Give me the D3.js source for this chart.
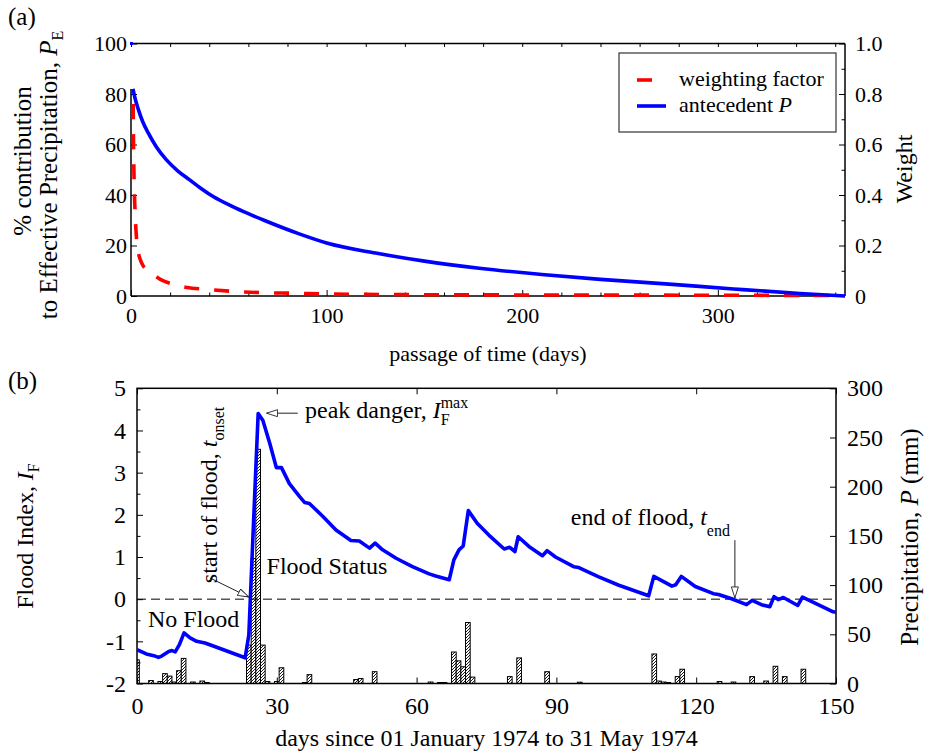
<!DOCTYPE html>
<html>
<head>
<meta charset="utf-8">
<script src="https://cdn.jsdelivr.net/npm/d3@7"></script>
<style>
  body { margin: 0; background: #fff; }
  svg { display: block; font-family: "Liberation Serif", "Times New Roman", serif; }
</style>
</head>
<body>
<svg id="chart" width="928" height="752"></svg>
<script>
// ---------- Panel (a): weighting factor and antecedent precipitation ----------
const weightDays   = [1.1, 1.3, 1.6, 2.0, 2.8, 3.6, 5.5, 8, 10.6, 15, 20, 28.5, 38, 53, 68, 83, 99, 130, 205, 300, 365];
const weightValues = [0.76, 0.60, 0.45, 0.35, 0.23, 0.18, 0.13, 0.105, 0.09, 0.066, 0.05, 0.034, 0.027, 0.018, 0.013, 0.011, 0.008, 0.006, 0.004, 0.003, 0.002];
const antecedentDays = [1, 2, 3.7, 6, 8.8, 13, 18, 24, 30, 36, 42, 52, 60, 68, 86, 100, 125, 150, 178, 210, 240, 275, 308, 342, 365];
const antecedentPct  = [82, 78.5, 74, 69, 64.6, 59, 54, 49.5, 46, 42.5, 39.4, 35.4, 32.6, 30.0, 24.6, 21.0, 17.0, 13.8, 11.0, 8.5, 6.6, 4.7, 2.8, 1.0, 0];
const antecedentStart = [0, 100];            // contribution on day 0
const timeTicks   = [0, 100, 200, 300];
const pctTicks    = [0, 20, 40, 60, 80, 100];
const weightTicks = [0, 0.2, 0.4, 0.6, 0.8, 1.0];

// ---------- Panel (b): flood index and daily precipitation, Jan-May 1974 ----------
const indexDays = [0, 2, 3.6, 4.6, 5.3, 6.8, 7.5, 8.2, 9.1, 10.1, 11.4, 12.8, 14.6, 16.8, 23.2, 24, 25, 26, 27, 28.5, 29.9, 31,
  32.7, 34.9, 36, 37, 39.9, 42.7, 45.9, 47.7, 49.9, 51.1, 52.7, 55.6, 59.1, 62.7, 64.1, 67, 68, 69.1, 70, 71.1, 73, 75.5,
  78.8, 80, 81.1, 81.8, 84.1, 87, 88, 89.8, 93.7, 94.8, 99.1, 103.4, 109.8, 110.9, 114.8, 115.6, 116.8, 119.8, 123.7,
  124.8, 127.6, 130.8, 132, 134, 135.8, 136.7, 137.6, 138.7, 141.8, 142.8, 149.4, 150];
const indexValues = [-1.20, -1.30, -1.34, -1.38, -1.35, -1.24, -1.22, -1.25, -1.08, -0.80, -0.92, -1.00, -1.04, -1.13, -1.39, -0.85, 1.8, 4.40, 4.24, 3.69, 3.12, 3.12,
  2.74, 2.43, 2.29, 2.27, 1.96, 1.64, 1.39, 1.38, 1.21, 1.33, 1.17, 0.97, 0.77, 0.60, 0.55, 0.46, 0.93, 1.17, 1.26, 2.10, 1.80, 1.52,
  1.19, 1.23, 1.13, 1.48, 1.25, 1.03, 1.15, 1.00, 0.77, 0.75, 0.53, 0.33, 0.08, 0.54, 0.31, 0.34, 0.54, 0.30, 0.13,
  0.11, 0.01, -0.13, -0.03, -0.13, -0.18, 0.06, -0.01, 0.04, -0.15, 0.05, -0.30, -0.31];
const rainDays = [0, 3, 5, 6, 7, 8, 9, 10, 12, 14, 15, 24, 25, 26, 27, 28, 30, 31, 36, 37, 47, 48, 51, 63, 65, 66,
  68, 69, 70, 71, 72, 80, 82, 88, 95, 111, 112, 113, 114, 116, 117, 125, 128, 132, 135, 137, 139, 143];
const rainMM = [24, 3, 2, 10, 7.5, 1.5, 13, 25.5, 1.5, 2.5, 1, 39, 127, 238, 39, 2, 2, 16, 1, 9, 4, 5, 12, 1.5, 1, 1,
  32, 23, 17, 62, 6.5, 7, 26, 12, 1.3, 30, 2.5, 1.5, 1, 7, 14.5, 2, 1.5, 7, 2.5, 17.5, 7, 14.5];
const dayTicks   = [0, 30, 60, 90, 120, 150];
const indexTicks = [-2, -1, 0, 1, 2, 3, 4, 5];
const rainTicks  = [0, 50, 100, 150, 200, 250, 300];

const svg = d3.select("#chart");
const defs = svg.append("defs");

function styleAxis(g, size) {
  g.attr("font-family", null).attr("font-size", size);
  g.select(".domain").remove();
  g.selectAll("line").attr("stroke", "#000").attr("stroke-width", 1);
  g.selectAll("text").attr("fill", "#000");
}

// ================= Panel (a) =================
const xA = d3.scaleLinear().domain([0, 365]).range([131, 845]);
const yA = d3.scaleLinear().domain([0, 100]).range([296, 43.5]);
const wA = d3.scaleLinear().domain([0, 1]).range([296, 43.5]);
const gA = svg.append("g");

const minorDaysA = d3.range(20, 365, 20).filter(d => d % 100 !== 0);
gA.append("g").attr("transform", "translate(0,296)")
  .call(d3.axisBottom(xA).tickValues(timeTicks).tickSizeInner(-6).tickSizeOuter(0).tickPadding(11).tickFormat(d3.format("d")))
  .call(g => styleAxis(g, 22));
gA.append("g").attr("transform", "translate(0,296)")
  .call(d3.axisBottom(xA).tickValues(minorDaysA).tickSizeInner(-3.5).tickSizeOuter(0).tickFormat(""))
  .call(g => styleAxis(g, 22));
gA.append("g").attr("transform", "translate(0,43.5)")
  .call(d3.axisTop(xA).tickValues(timeTicks.concat(minorDaysA)).tickSizeInner(-3.5).tickSizeOuter(0).tickFormat(""))
  .call(g => styleAxis(g, 22));
gA.append("g").attr("transform", "translate(131,0)")
  .call(d3.axisLeft(yA).tickValues(pctTicks).tickSizeInner(-6).tickSizeOuter(0).tickPadding(4).tickFormat(d3.format("d")))
  .call(g => styleAxis(g, 22));
gA.append("g").attr("transform", "translate(845,0)")
  .call(d3.axisRight(wA).tickValues(weightTicks).tickSizeInner(-6).tickSizeOuter(0).tickPadding(10)
    .tickFormat(d => d === 0 ? "0" : d3.format(".1f")(d)))
  .call(g => styleAxis(g, 22));
gA.append("g").attr("transform", "translate(845,0)")
  .call(d3.axisRight(wA).tickValues([0.1, 0.3, 0.5, 0.7, 0.9]).tickSizeInner(-3.5).tickSizeOuter(0).tickFormat(""))
  .call(g => styleAxis(g, 22));

// frame of panel (a); the left edge stops where the antecedent curve begins
const frameA = gA.append("g").attr("stroke", "#000").attr("stroke-width", 1.5).attr("fill", "none");
frameA.append("line").attr("x1", xA(0)).attr("x2", xA(365)).attr("y1", yA(100)).attr("y2", yA(100));
frameA.append("line").attr("x1", xA(0)).attr("x2", xA(365)).attr("y1", yA(0)).attr("y2", yA(0));
frameA.append("line").attr("x1", xA(365)).attr("x2", xA(365)).attr("y1", yA(0)).attr("y2", yA(100));
frameA.append("line").attr("x1", xA(0)).attr("x2", xA(0)).attr("y1", yA(0)).attr("y2", yA(antecedentPct[0]));

const weightPts = weightDays.map((d, i) => [d, weightValues[i]]);
gA.append("path").datum(weightPts)
  .attr("d", d3.line().x(d => xA(d[0])).y(d => wA(d[1])).curve(d3.curveMonotoneX))
  .attr("fill", "none").attr("stroke", "#ff0000").attr("stroke-width", 3.6).attr("stroke-dasharray", "15,15");

const antPts = antecedentDays.map((d, i) => [d, antecedentPct[i]]);
gA.append("path").datum(antPts)
  .attr("d", d3.line().x(d => xA(d[0])).y(d => yA(d[1])).curve(d3.curveMonotoneX))
  .attr("fill", "none").attr("stroke", "#0000ff").attr("stroke-width", 3.6);
gA.append("rect")
  .attr("x", xA(antecedentStart[0]) - 1).attr("y", yA(antecedentStart[1]) - 1.5)
  .attr("width", 3).attr("height", 3).attr("fill", "#0000ff");

// legend
const leg = gA.append("g").attr("font-size", 22);
leg.append("rect").attr("x", 619).attr("y", 53).attr("width", 217).attr("height", 79)
  .attr("fill", "#fff").attr("stroke", "#333").attr("stroke-width", 1.2);
leg.append("line").attr("x1", 637).attr("x2", 652).attr("y1", 80).attr("y2", 80)
  .attr("stroke", "#ff0000").attr("stroke-width", 3.6);
leg.append("line").attr("x1", 637).attr("x2", 666).attr("y1", 106).attr("y2", 106)
  .attr("stroke", "#0000ff").attr("stroke-width", 3.6);
leg.append("text").attr("x", 679).attr("y", 86).text("weighting factor");
const legT = leg.append("text").attr("x", 679).attr("y", 112);
legT.append("tspan").text("antecedent ");
legT.append("tspan").attr("font-style", "italic").text("P");

// axis titles (a)
svg.append("text").attr("x", 8).attr("y", 25).attr("font-size", 25).text("(a)");
svg.append("text").attr("x", 488).attr("y", 361).attr("text-anchor", "middle").attr("font-size", 22)
  .text("passage of time (days)");
svg.append("text").attr("transform", "translate(31,161) rotate(-90)").attr("text-anchor", "middle")
  .attr("font-size", 25).text("% contribution");
const tA2 = svg.append("text").attr("transform", "translate(57,175) rotate(-90)").attr("text-anchor", "middle")
  .attr("font-size", 25);
tA2.append("tspan").text("to Effective Precipitation, ");
tA2.append("tspan").attr("font-style", "italic").text("P");
tA2.append("tspan").attr("font-size", 16).attr("dy", 6).text("E");
svg.append("text").attr("transform", "translate(912,169) rotate(-90)").attr("text-anchor", "middle")
  .attr("font-size", 24).text("Weight");

// ================= Panel (b) =================
const xB = d3.scaleLinear().domain([0, 150]).range([137, 836]);
const yB = d3.scaleLinear().domain([-2, 5]).range([683.5, 388.3]);
const pB = d3.scaleLinear().domain([0, 300]).range([683.5, 388.3]);
const gB = svg.append("g");

defs.append("clipPath").attr("id", "clipB").append("rect")
  .attr("x", xB(0)).attr("y", yB(5)).attr("width", xB(150) - xB(0)).attr("height", yB(-2) - yB(5));

// diagonal hatching for the precipitation bars
const hatch = defs.append("pattern").attr("id", "hatch").attr("patternUnits", "userSpaceOnUse")
  .attr("width", 3).attr("height", 3);
hatch.append("rect").attr("width", 3).attr("height", 3).attr("fill", "#fff");
hatch.append("path").attr("d", "M-1,1 L1,-1 M0,3 L3,0 M2,4 L4,2")
  .attr("stroke", "#000").attr("stroke-width", 0.9);

// precipitation bars
const dayW = xB(1) - xB(0);
gB.append("g").attr("clip-path", "url(#clipB)")
  .selectAll("rect").data(rainDays.map((d, i) => [d, rainMM[i]])).join("rect")
  .attr("x", d => xB(d[0] - 0.5)).attr("width", dayW)
  .attr("y", d => pB(d[1])).attr("height", d => pB(0) - pB(d[1]))
  .attr("fill", "url(#hatch)").attr("stroke", "#000").attr("stroke-width", 1);

// flood / no-flood threshold
gB.append("line").attr("x1", xB(0)).attr("x2", xB(150)).attr("y1", yB(0)).attr("y2", yB(0))
  .attr("stroke", "#000").attr("stroke-width", 1).attr("stroke-dasharray", "9,5");

// axes (b)
gB.append("g").attr("transform", `translate(0,${yB(-2)})`)
  .call(d3.axisBottom(xB).tickValues(dayTicks).tickSizeInner(-6).tickSizeOuter(0).tickPadding(13).tickFormat(d3.format("d")))
  .call(g => styleAxis(g, 24));
gB.append("g").attr("transform", `translate(0,${yB(5)})`)
  .call(d3.axisTop(xB).tickValues(dayTicks).tickSizeInner(-6).tickSizeOuter(0).tickFormat(""))
  .call(g => styleAxis(g, 24));
gB.append("g").attr("transform", `translate(${xB(0)},0)`)
  .call(d3.axisLeft(yB).tickValues(indexTicks).tickSizeInner(-6).tickSizeOuter(0).tickPadding(11).tickFormat(d => String(d)))
  .call(g => styleAxis(g, 24));
gB.append("g").attr("transform", `translate(${xB(0)},0)`)
  .call(d3.axisLeft(yB).tickValues(d3.range(-1.5, 5, 1)).tickSizeInner(-3.5).tickSizeOuter(0).tickFormat(""))
  .call(g => styleAxis(g, 24));
gB.append("g").attr("transform", `translate(${xB(150)},0)`)
  .call(d3.axisRight(pB).tickValues(rainTicks).tickSizeInner(-6).tickSizeOuter(0).tickPadding(11).tickFormat(d3.format("d")))
  .call(g => styleAxis(g, 24));

gB.append("rect").attr("x", xB(0)).attr("y", yB(5)).attr("width", xB(150) - xB(0)).attr("height", yB(-2) - yB(5))
  .attr("fill", "none").attr("stroke", "#000").attr("stroke-width", 1.5);

// flood index line
const idxPts = indexDays.map((d, i) => [d, indexValues[i]]);
gB.append("path").datum(idxPts).attr("clip-path", "url(#clipB)")
  .attr("d", d3.line().x(d => xB(d[0])).y(d => yB(d[1])))
  .attr("fill", "none").attr("stroke", "#0000ff").attr("stroke-width", 3.6).attr("stroke-linejoin", "round");

// annotation arrows
defs.append("marker").attr("id", "openHead").attr("viewBox", "0 0 12 8")
  .attr("refX", 11.5).attr("refY", 4).attr("markerWidth", 12).attr("markerHeight", 8)
  .attr("markerUnits", "userSpaceOnUse").attr("orient", "auto")
  .append("path").attr("d", "M0.5,0.5 L11.5,4 L0.5,7.5 Z")
  .attr("fill", "#fff").attr("stroke", "#222").attr("stroke-width", 0.9);
const arrows = [
  [[15.7, 0.50], [24.0, 0.05]],   // onset
  [[34.5, 4.41], [27.8, 4.41]],   // peak
  [[128.3, 1.40], [128.3, 0.03]]  // end
];
gB.selectAll(".arrow").data(arrows).join("line").attr("class", "arrow")
  .attr("x1", d => xB(d[0][0])).attr("y1", d => yB(d[0][1]))
  .attr("x2", d => xB(d[1][0])).attr("y2", d => yB(d[1][1]))
  .attr("stroke", "#222").attr("stroke-width", 1).attr("marker-end", "url(#openHead)");

// annotation text
const ann = gB.append("g").attr("font-size", 24).attr("fill", "#000");
ann.append("text").attr("x", xB(2.36)).attr("y", yB(-0.66)).text("No Flood");
ann.append("text").attr("x", xB(27.8)).attr("y", yB(0.6)).text("Flood Status");
const tPeak = ann.append("text").attr("x", xB(36.05)).attr("y", yB(4.30));
tPeak.append("tspan").text("peak danger, ");
tPeak.append("tspan").attr("font-style", "italic").text("I");
tPeak.append("tspan").attr("font-size", 16).attr("dy", 7).text("F");
tPeak.append("tspan").attr("font-size", 16).attr("dx", -8.9).attr("dy", -17).text("max");
const tEnd = ann.append("text").attr("x", xB(93.1)).attr("y", yB(1.76));
tEnd.append("tspan").text("end of flood, ");
tEnd.append("tspan").attr("font-style", "italic").text("t");
tEnd.append("tspan").attr("font-size", 16).attr("dy", 11).text("end");
const tOnset = ann.append("text")
  .attr("transform", `translate(${xB(17.2)},${yB(0.38)}) rotate(-90)`);
tOnset.append("tspan").text("start of flood, ");
tOnset.append("tspan").attr("font-style", "italic").text("t");
tOnset.append("tspan").attr("font-size", 16).attr("dy", 7).text("onset");

// titles (b)
svg.append("text").attr("x", 8).attr("y", 389).attr("font-size", 25).text("(b)");
svg.append("text").attr("x", 486.5).attr("y", 746).attr("text-anchor", "middle").attr("font-size", 24)
  .text("days since 01 January 1974 to 31 May 1974");
const tIdx = svg.append("text").attr("transform", "translate(33,536) rotate(-90)").attr("text-anchor", "middle")
  .attr("font-size", 24);
tIdx.append("tspan").text("Flood Index, ");
tIdx.append("tspan").attr("font-style", "italic").text("I");
tIdx.append("tspan").attr("font-size", 16).attr("dy", 6).text("F");
const tRain = svg.append("text").attr("transform", "translate(918,537) rotate(-90)").attr("text-anchor", "middle")
  .attr("font-size", 25);
tRain.append("tspan").text("Precipitation, ");
tRain.append("tspan").attr("font-style", "italic").text("P");
tRain.append("tspan").text(" (mm)");
</script>
</body>
</html>
